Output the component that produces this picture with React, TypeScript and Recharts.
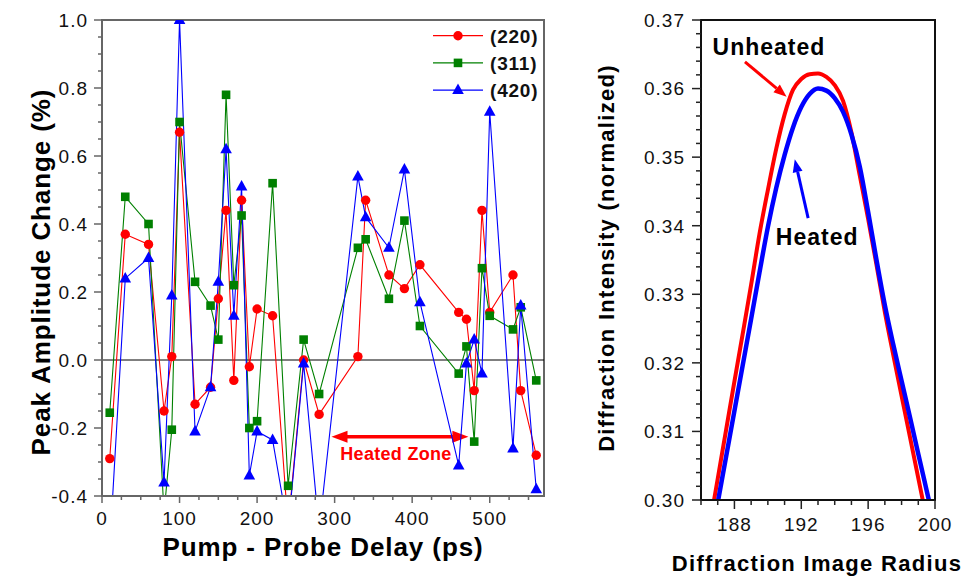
import React from "react";
import { LineChart, Line, XAxis, YAxis, ReferenceLine, ReferenceArea, Legend } from "recharts";

const FONT = "'Liberation Sans', Arial, Helvetica, sans-serif";

// ---- left panel: peak amplitude change vs pump-probe delay ----
const delayPs = [10, 30, 60, 80, 90, 100, 120, 140, 150, 160, 170, 180, 190, 200, 220, 240, 260, 280, 330, 340, 370, 390, 410, 460, 470, 480, 490, 500, 530, 540, 560];
const peak220 = [-0.29, 0.37, 0.34, -0.15, 0.01, 0.67, -0.13, -0.08, 0.18, 0.44, -0.06, 0.47, -0.02, 0.15, 0.13, -0.49, 0.0, -0.16, 0.01, 0.47, 0.25, 0.21, 0.28, 0.14, 0.12, -0.09, 0.44, 0.14, 0.25, -0.09, -0.28];
const peak311 = [-0.155, 0.48, 0.4, -0.45, -0.205, 0.7, 0.23, 0.16, 0.06, 0.78, 0.22, 0.425, -0.2, -0.18, 0.52, -0.37, 0.06, -0.1, 0.33, 0.355, 0.18, 0.41, 0.1, -0.04, 0.04, -0.24, 0.27, 0.13, 0.09, 0.155, -0.06];
const peak420 = [-0.55, 0.24, 0.3, -0.36, 0.19, 1.0, -0.21, -0.08, 0.23, 0.62, 0.13, 0.51, -0.34, -0.21, -0.235, -0.5, -0.01, -0.5, 0.54, 0.42, 0.33, 0.56, 0.17, -0.31, -0.01, 0.06, -0.04, 0.73, -0.26, 0.16, -0.38];

const delayLabels = [0, 100, 200, 300, 400, 500];
const changeLabels = [-0.4, -0.2, 0.0, 0.2, 0.4, 0.6, 0.8, 1.0];

// ---- right panel: ring profile, unheated vs heated ----
const radius = [186.5, 187, 187.5, 188, 188.5, 189, 189.5, 190, 190.5, 191, 191.5, 192, 192.5, 193, 193.5, 194, 194.5, 195, 195.5, 196, 196.5, 197, 197.5, 198, 198.5, 199, 199.5, 200];
const unheated = [0.296, 0.3031, 0.3102, 0.3173, 0.3243, 0.3314, 0.3388, 0.3452, 0.3512, 0.3562, 0.3598, 0.3614, 0.3621, 0.3622, 0.3617, 0.3605, 0.3582, 0.3536, 0.3473, 0.341, 0.3343, 0.3274, 0.3212, 0.3152, 0.3092, 0.3032, 0.2972, 0.2912];
const heated = [0.2929, 0.2996, 0.3063, 0.313, 0.3197, 0.3264, 0.3332, 0.3398, 0.3455, 0.3503, 0.3543, 0.3573, 0.3592, 0.36, 0.3597, 0.3586, 0.3566, 0.3533, 0.3486, 0.342, 0.335, 0.3284, 0.3227, 0.3174, 0.3121, 0.3067, 0.3014, 0.2961];

const radiusLabels = [188, 192, 196, 200];
const intensityLabels = [0.3, 0.31, 0.32, 0.33, 0.34, 0.35, 0.36, 0.37];

const series = [
  { key: "p220", name: "(220)", color: "#ff0000", shape: "circle" },
  { key: "p311", name: "(311)", color: "#008000", shape: "square" },
  { key: "p420", name: "(420)", color: "#0000ff", shape: "triangle" },
];

const delayRows = delayPs.map((d, i) => ({ delay: d, p220: peak220[i], p311: peak311[i], p420: peak420[i] }));
const radiusRows = radius.map((r, i) => ({ r, unheated: unheated[i], heated: heated[i] }));

// minor tick positions (axis config only)
const steps = (from: number, to: number, step: number) => {
  const out: number[] = [];
  for (let v = from; v <= to + step / 2; v += step) out.push(Math.round(v * 10000) / 10000);
  return out;
};

const isIn = (list: number[], v: number) => list.some((l) => Math.abs(l - v) < 1e-6);

function marker(shape: string, cx: number, cy: number, color: string, k?: string) {
  if (shape === "circle") return <circle key={k} cx={cx} cy={cy} r={4.7} fill={color} />;
  if (shape === "square") return <rect key={k} x={cx - 4.3} y={cy - 4.3} width={8.6} height={8.6} fill={color} />;
  return <polygon key={k} points={`${cx},${cy - 6.5} ${cx - 5.8},${cy + 4} ${cx + 5.8},${cy + 4}`} fill={color} />;
}

type TickOpt = { labels: number[]; digits: number; major: number; minor: number; gap: number; color: string };

const yTick = (o: TickOpt) => (p: any) => {
  const v = p.payload.value;
  const big = isIn(o.labels, v);
  return (
    <g key={`y${v}`}>
      <line x1={p.x - (big ? o.major : o.minor)} x2={p.x} y1={p.y} y2={p.y} stroke={o.color} strokeWidth={1.5} />
      {big && (
        <text x={p.x - o.major - o.gap} y={p.y} dy="0.36em" textAnchor="end" fontFamily={FONT} fontSize={19} letterSpacing={1} fill="#111">
          {v.toFixed(o.digits)}
        </text>
      )}
    </g>
  );
};

const xTick = (o: TickOpt) => (p: any) => {
  const v = p.payload.value;
  const big = isIn(o.labels, v);
  return (
    <g key={`x${v}`}>
      <line x1={p.x} x2={p.x} y1={p.y} y2={p.y + (big ? o.major : o.minor)} stroke={o.color} strokeWidth={1.5} />
      {big && (
        <text x={p.x} y={p.y + o.major + o.gap} dy="0.71em" textAnchor="middle" fontFamily={FONT} fontSize={19} letterSpacing={1} fill="#111">
          {v.toFixed(o.digits)}
        </text>
      )}
    </g>
  );
};

const zoneArrow = (p: any) => {
  const { x1, y1, x2, y2 } = p;
  const h = 16;
  const w = 6;
  return (
    <g>
      <line x1={x1 + h - 2} y1={y1} x2={x2 - h + 2} y2={y2} stroke="#ff0000" strokeWidth={3.5} />
      <polygon points={`${x1},${y1} ${x1 + h},${y1 - w} ${x1 + h},${y1 + w}`} fill="#ff0000" />
      <polygon points={`${x2},${y2} ${x2 - h},${y2 - w} ${x2 - h},${y2 + w}`} fill="#ff0000" />
      <text x={(x1 + x2) / 2 - 4} y={y1 + 23} textAnchor="middle" fontFamily={FONT} fontWeight="bold" fontSize={18} letterSpacing={0.3} fill="#ff0000">
        Heated Zone
      </text>
    </g>
  );
};

const pointer = (color: string, text: string, tdx: number, tdy: number) => (p: any) => {
  const { x1, y1, x2, y2 } = p;
  const ang = Math.atan2(y2 - y1, x2 - x1);
  const len = 13;
  const half = 5;
  const bx = x2 - len * Math.cos(ang);
  const by = y2 - len * Math.sin(ang);
  const nx = -Math.sin(ang) * half;
  const ny = Math.cos(ang) * half;
  return (
    <g>
      <line x1={x1} y1={y1} x2={bx} y2={by} stroke={color} strokeWidth={3} />
      <polygon points={`${x2},${y2} ${bx + nx},${by + ny} ${bx - nx},${by - ny}`} fill={color} />
      <text x={x1 + tdx} y={y1 + tdy} textAnchor="middle" fontFamily={FONT} fontWeight="bold" fontSize={23} letterSpacing={1} fill="#000">
        {text}
      </text>
    </g>
  );
};

const renderLegend = () => (
  <svg width={125} height={85}>
    {series.map((s, i) => {
      const y = 15.7 + i * 27.2;
      return (
        <g key={s.key}>
          <line x1={8} x2={58} y1={y} y2={y} stroke={s.color} strokeWidth={1.2} />
          {marker(s.shape, 33, y, s.color)}
          <text x={65} y={y} dy="0.36em" fontFamily={FONT} fontWeight="bold" fontSize={19} letterSpacing={0.8} fill="#111">
            {s.name}
          </text>
        </g>
      );
    })}
  </svg>
);

const titleStyle = { fontFamily: FONT, fontWeight: "bold" as const, fill: "#000" };

export default function App() {
  return (
    <div style={{ position: "absolute", left: 0, top: 0, width: 969, height: 576, background: "#fff", overflow: "hidden" }}>
      <div style={{ position: "absolute", left: 0, top: 0 }}>
        <LineChart width={560} height={576} data={delayRows} margin={{ top: 20, right: 16, bottom: 0, left: 0 }}>
          <XAxis
            type="number"
            dataKey="delay"
            domain={[0, 570]}
            ticks={steps(0, 550, 25)}
            interval={0}
            height={80}
            tickSize={0}
            tickMargin={0}
            tickLine={false}
            axisLine={{ stroke: "#666", strokeWidth: 2 }}
            tick={xTick({ labels: delayLabels, digits: 0, major: 7, minor: 4, gap: 9, color: "#666" })}
            allowDataOverflow
          />
          <YAxis
            type="number"
            domain={[-0.4, 1.0]}
            ticks={steps(-0.4, 1.0, 0.05)}
            interval={0}
            width={102}
            tickSize={0}
            tickMargin={0}
            tickLine={false}
            axisLine={{ stroke: "#666", strokeWidth: 2 }}
            tick={yTick({ labels: changeLabels, digits: 1, major: 8, minor: 4, gap: 6, color: "#666" })}
            allowDataOverflow
          />
          <ReferenceArea x1={0} x2={570} y1={-0.4} y2={1.0} fill="none" stroke="#666" strokeWidth={2} />
          <ReferenceLine y={0} stroke="#000" strokeWidth={1} />
          <ReferenceLine segment={[{ x: 296, y: -0.2256 }, { x: 472.5, y: -0.2256 }]} shape={zoneArrow} />
          {series.map((s) => (
            <Line
              key={s.key}
              dataKey={s.key}
              name={s.name}
              stroke={s.color}
              strokeWidth={1.1}
              isAnimationActive={false}
              dot={(p: any) => marker(s.shape, p.cx, p.cy, s.color, `${s.key}-${p.index}`)}
              activeDot={false}
            />
          ))}
          <Legend
            layout="vertical"
            verticalAlign="middle"
            align="center"
            content={renderLegend}
            wrapperStyle={{ left: 425, top: 20, width: 125, height: 85 }}
          />
        </LineChart>
      </div>

      <div style={{ position: "absolute", left: 560, top: 0 }}>
        <LineChart width={409} height={576} data={radiusRows} margin={{ top: 20, right: 34, bottom: 0, left: 0 }}>
          <XAxis
            type="number"
            dataKey="r"
            domain={[186, 200]}
            ticks={steps(186, 200, 1)}
            interval={0}
            height={76}
            tickSize={0}
            tickMargin={0}
            tickLine={false}
            axisLine={{ stroke: "#111", strokeWidth: 2 }}
            tick={xTick({ labels: radiusLabels, digits: 0, major: 9, minor: 5, gap: 9, color: "#222" })}
            allowDataOverflow
          />
          <YAxis
            type="number"
            domain={[0.3, 0.37]}
            ticks={steps(0.3, 0.37, 0.002)}
            interval={0}
            width={141}
            tickSize={0}
            tickMargin={0}
            tickLine={false}
            axisLine={{ stroke: "#111", strokeWidth: 2 }}
            tick={yTick({ labels: intensityLabels, digits: 2, major: 9, minor: 5, gap: 7, color: "#222" })}
            allowDataOverflow
          />
          <ReferenceArea x1={186} x2={200} y1={0.3} y2={0.37} fill="none" stroke="#111" strokeWidth={2} />
          <Line type="monotone" dataKey="unheated" stroke="#ff0000" strokeWidth={4} dot={false} activeDot={false} isAnimationActive={false} />
          <Line type="monotone" dataKey="heated" stroke="#0000ff" strokeWidth={4.5} dot={false} activeDot={false} isAnimationActive={false} />
          <ReferenceLine segment={[{ x: 188.63, y: 0.3639 }, { x: 191.12, y: 0.3588 }]} shape={pointer("#ff0000", "Unheated", 24, -6.5)} />
          <ReferenceLine segment={[{ x: 192.41, y: 0.3411 }, { x: 191.61, y: 0.3497 }]} shape={pointer("#0000ff", "Heated", 9, 26.5)} />
        </LineChart>
      </div>

      <svg width={969} height={576} style={{ position: "absolute", left: 0, top: 0, pointerEvents: "none" }}>
        <text transform="translate(50,272) rotate(-90)" textAnchor="middle" fontSize={26} letterSpacing={0.9} {...titleStyle}>
          Peak Amplitude Change (%)
        </text>
        <text x={323} y={556} textAnchor="middle" fontSize={26} letterSpacing={0.9} {...titleStyle}>
          Pump - Probe Delay (ps)
        </text>
        <text transform="translate(614,258) rotate(-90)" textAnchor="middle" fontSize={22} letterSpacing={1.3} {...titleStyle}>
          Diffraction Intensity (normalized)
        </text>
        <text x={817} y={571} textAnchor="middle" fontSize={22} letterSpacing={1.3} {...titleStyle}>
          Diffraction Image Radius
        </text>
      </svg>
    </div>
  );
}
